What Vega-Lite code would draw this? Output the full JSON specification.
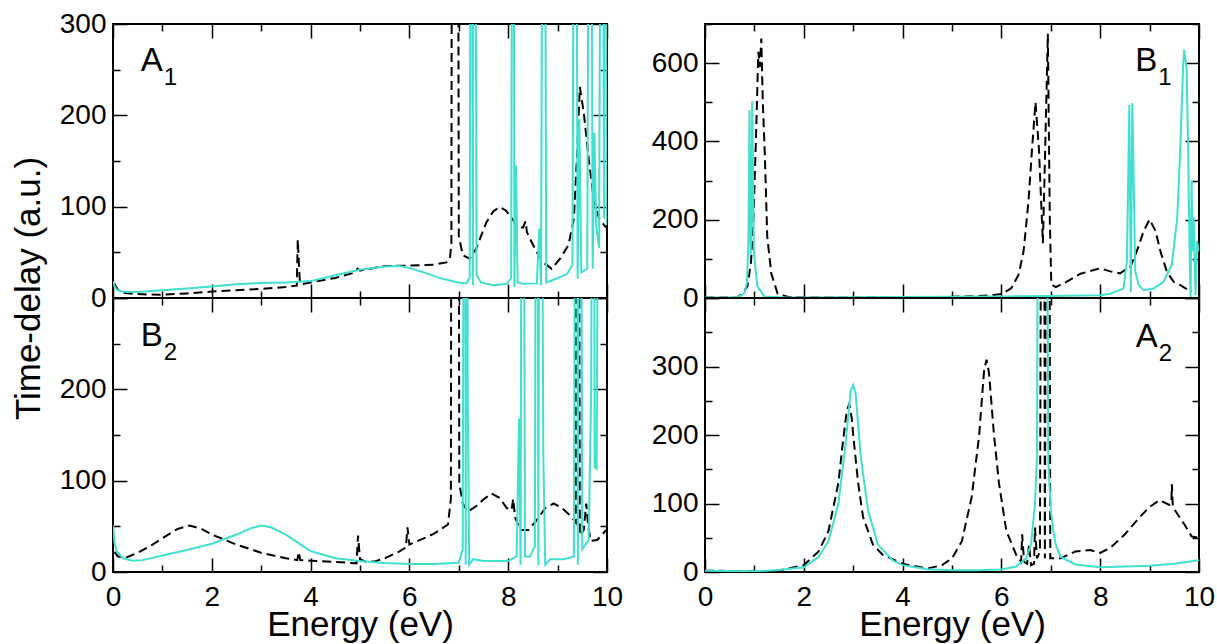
{
  "$schema": "https://vega.github.io/schema/vega-lite/v6.json",
  "padding": {"left": 10, "top": 9, "right": 2, "bottom": 0},
  "config": {
    "font": "Liberation Sans",
    "view": {"stroke": "black", "strokeWidth": 2},
    "axis": {
      "domain": false,
      "grid": false,
      "labelFont": "Liberation Sans",
      "labelFontSize": 28,
      "labelColor": "black",
      "labelFlush": false,
      "labelOverlap": false,
      "labelPadding": 7,
      "titleFont": "Liberation Sans",
      "titleFontSize": 35,
      "titleFontWeight": "normal",
      "titleColor": "black",
      "tickColor": "black",
      "tickWidth": 1.5,
      "tickSize": -14
    },
    "axisBottom": {"labelPadding": 25},
    "axisLeft": {"labelPadding": 21}
  },
  "datasets": {
    "a1d": [
      {"e": 0.02, "t": 16}, {"e": 0.1, "t": 9}, {"e": 0.2, "t": 6}, {"e": 0.4, "t": 4.5}, {"e": 0.7, "t": 3.8},
      {"e": 1.0, "t": 3.6}, {"e": 1.5, "t": 5}, {"e": 2.0, "t": 7}, {"e": 2.5, "t": 8.5}, {"e": 3.0, "t": 10},
      {"e": 3.5, "t": 12}, {"e": 3.72, "t": 13.5}, {"e": 3.74, "t": 64}, {"e": 3.78, "t": 20}, {"e": 3.82, "t": 15},
      {"e": 4.0, "t": 17}, {"e": 4.5, "t": 22}, {"e": 4.9, "t": 28}, {"e": 4.95, "t": 32}, {"e": 5.0, "t": 30},
      {"e": 5.5, "t": 35}, {"e": 6.0, "t": 35.5}, {"e": 6.5, "t": 36.5}, {"e": 6.75, "t": 39}, {"e": 6.82, "t": 43},
      {"e": 6.85, "t": 60}, {"e": 6.87, "t": 1000}, {"e": 6.97, "t": 1000}, {"e": 7.0, "t": 68}, {"e": 7.08, "t": 47},
      {"e": 7.22, "t": 43}, {"e": 7.35, "t": 54}, {"e": 7.56, "t": 83}, {"e": 7.7, "t": 95}, {"e": 7.83, "t": 99.5},
      {"e": 7.95, "t": 96}, {"e": 8.05, "t": 89}, {"e": 8.2, "t": 78}, {"e": 8.3, "t": 77}, {"e": 8.35, "t": 84},
      {"e": 8.38, "t": 72}, {"e": 8.44, "t": 65}, {"e": 8.58, "t": 50}, {"e": 8.71, "t": 39}, {"e": 8.88, "t": 32},
      {"e": 9.05, "t": 43}, {"e": 9.22, "t": 58}, {"e": 9.33, "t": 87}, {"e": 9.39, "t": 152}, {"e": 9.45, "t": 231},
      {"e": 9.53, "t": 203}, {"e": 9.63, "t": 152}, {"e": 9.73, "t": 109}, {"e": 9.84, "t": 87}, {"e": 9.97, "t": 78},
      {"e": 10, "t": 77}
    ],
    "a1c": [
      {"e": 0.0, "t": 18}, {"e": 0.03, "t": 13}, {"e": 0.08, "t": 9}, {"e": 0.15, "t": 7.5}, {"e": 0.3, "t": 6.5},
      {"e": 0.5, "t": 6.5}, {"e": 1.0, "t": 8.5}, {"e": 1.5, "t": 10.5}, {"e": 2.0, "t": 12.5}, {"e": 2.5, "t": 15},
      {"e": 3.0, "t": 16.3}, {"e": 3.5, "t": 17}, {"e": 4.0, "t": 18.5}, {"e": 4.5, "t": 25}, {"e": 5.0, "t": 31},
      {"e": 5.5, "t": 34.5}, {"e": 5.8, "t": 35}, {"e": 6.0, "t": 33}, {"e": 6.3, "t": 28}, {"e": 6.6, "t": 22},
      {"e": 6.9, "t": 18}, {"e": 7.0, "t": 17}, {"e": 7.15, "t": 16}, {"e": 7.22, "t": 22}, {"e": 7.26, "t": 1000},
      {"e": 7.285, "t": 14}, {"e": 7.31, "t": 1000}, {"e": 7.36, "t": 25}, {"e": 7.45, "t": 17}, {"e": 7.7, "t": 14},
      {"e": 7.97, "t": 15.5}, {"e": 8.06, "t": 22}, {"e": 8.1, "t": 1000}, {"e": 8.125, "t": 12}, {"e": 8.16, "t": 145},
      {"e": 8.19, "t": 17}, {"e": 8.3, "t": 15.5}, {"e": 8.58, "t": 16}, {"e": 8.63, "t": 76}, {"e": 8.665, "t": 14},
      {"e": 8.72, "t": 1000}, {"e": 8.77, "t": 17}, {"e": 8.92, "t": 20}, {"e": 9.19, "t": 26}, {"e": 9.3, "t": 36},
      {"e": 9.36, "t": 1000}, {"e": 9.405, "t": 21}, {"e": 9.44, "t": 196}, {"e": 9.48, "t": 28}, {"e": 9.6, "t": 32},
      {"e": 9.66, "t": 1000}, {"e": 9.71, "t": 32}, {"e": 9.745, "t": 181}, {"e": 9.78, "t": 79}, {"e": 9.84, "t": 55},
      {"e": 9.9, "t": 1000}, {"e": 9.94, "t": 87}, {"e": 9.98, "t": 1000}, {"e": 10, "t": 80}
    ],
    "b2d": [
      {"e": 0.03, "t": 22}, {"e": 0.1, "t": 17}, {"e": 0.25, "t": 15.5}, {"e": 0.5, "t": 21}, {"e": 0.8, "t": 30},
      {"e": 1.0, "t": 37}, {"e": 1.3, "t": 47}, {"e": 1.55, "t": 51}, {"e": 1.8, "t": 47}, {"e": 2.0, "t": 41},
      {"e": 2.5, "t": 30}, {"e": 3.0, "t": 21}, {"e": 3.5, "t": 15}, {"e": 3.73, "t": 13}, {"e": 3.76, "t": 22},
      {"e": 3.79, "t": 13}, {"e": 4.0, "t": 12.4}, {"e": 4.5, "t": 11}, {"e": 4.93, "t": 9.5}, {"e": 4.96, "t": 40},
      {"e": 5.0, "t": 14}, {"e": 5.1, "t": 11.5}, {"e": 5.3, "t": 11.5}, {"e": 5.5, "t": 15}, {"e": 5.8, "t": 22.5},
      {"e": 5.93, "t": 27}, {"e": 5.96, "t": 49}, {"e": 6.0, "t": 30}, {"e": 6.3, "t": 37}, {"e": 6.5, "t": 42},
      {"e": 6.78, "t": 52}, {"e": 6.84, "t": 80}, {"e": 6.86, "t": 1000}, {"e": 6.98, "t": 1000}, {"e": 7.01, "t": 97},
      {"e": 7.08, "t": 75}, {"e": 7.18, "t": 66}, {"e": 7.35, "t": 72}, {"e": 7.49, "t": 79}, {"e": 7.66, "t": 86},
      {"e": 7.83, "t": 81}, {"e": 7.97, "t": 70}, {"e": 8.07, "t": 68}, {"e": 8.1, "t": 80}, {"e": 8.14, "t": 60},
      {"e": 8.24, "t": 46}, {"e": 8.41, "t": 46}, {"e": 8.58, "t": 57}, {"e": 8.75, "t": 70}, {"e": 8.92, "t": 75},
      {"e": 9.09, "t": 70}, {"e": 9.27, "t": 61}, {"e": 9.37, "t": 54}, {"e": 9.38, "t": 1000}, {"e": 9.42, "t": 1000},
      {"e": 9.45, "t": 40}, {"e": 9.53, "t": 46}, {"e": 9.58, "t": 75}, {"e": 9.62, "t": 50}, {"e": 9.67, "t": 34},
      {"e": 9.8, "t": 35}, {"e": 9.97, "t": 45}, {"e": 10, "t": 46}
    ],
    "b2c": [
      {"e": 0.0, "t": 51}, {"e": 0.03, "t": 32}, {"e": 0.08, "t": 22}, {"e": 0.2, "t": 15}, {"e": 0.4, "t": 12.4},
      {"e": 0.6, "t": 13}, {"e": 1.0, "t": 18}, {"e": 1.5, "t": 24}, {"e": 2.0, "t": 31}, {"e": 2.5, "t": 41},
      {"e": 2.8, "t": 48}, {"e": 3.0, "t": 51}, {"e": 3.2, "t": 49}, {"e": 3.5, "t": 41}, {"e": 3.8, "t": 30},
      {"e": 4.0, "t": 23}, {"e": 4.5, "t": 15}, {"e": 5.0, "t": 12}, {"e": 5.5, "t": 9.8}, {"e": 6.0, "t": 8.7},
      {"e": 6.5, "t": 8.7}, {"e": 7.0, "t": 10}, {"e": 7.08, "t": 25}, {"e": 7.12, "t": 1000}, {"e": 7.14, "t": 8},
      {"e": 7.16, "t": 1000}, {"e": 7.18, "t": 202}, {"e": 7.21, "t": 8}, {"e": 7.29, "t": 14}, {"e": 7.5, "t": 12},
      {"e": 8.0, "t": 12}, {"e": 8.17, "t": 17}, {"e": 8.22, "t": 168}, {"e": 8.25, "t": 8}, {"e": 8.29, "t": 1000},
      {"e": 8.34, "t": 17}, {"e": 8.44, "t": 17}, {"e": 8.54, "t": 28}, {"e": 8.58, "t": 1000}, {"e": 8.61, "t": 7},
      {"e": 8.65, "t": 1000}, {"e": 8.71, "t": 131}, {"e": 8.75, "t": 8}, {"e": 8.85, "t": 14}, {"e": 9.12, "t": 14},
      {"e": 9.33, "t": 17}, {"e": 9.38, "t": 1000}, {"e": 9.41, "t": 8}, {"e": 9.45, "t": 1000}, {"e": 9.5, "t": 25},
      {"e": 9.63, "t": 35}, {"e": 9.68, "t": 199}, {"e": 9.72, "t": 1000}, {"e": 9.75, "t": 115}, {"e": 9.79, "t": 113},
      {"e": 9.86, "t": 1000}, {"e": 10, "t": 1000}
    ],
    "b1d": [
      {"e": 0, "t": 1}, {"e": 0.5, "t": 1.5}, {"e": 0.66, "t": 3}, {"e": 0.75, "t": 10}, {"e": 0.86, "t": 30},
      {"e": 0.93, "t": 90}, {"e": 0.98, "t": 200}, {"e": 1.03, "t": 400}, {"e": 1.08, "t": 629}, {"e": 1.11, "t": 590},
      {"e": 1.14, "t": 663}, {"e": 1.17, "t": 500}, {"e": 1.21, "t": 370}, {"e": 1.26, "t": 157}, {"e": 1.34, "t": 64},
      {"e": 1.47, "t": 11}, {"e": 1.67, "t": 3}, {"e": 2.0, "t": 1.5}, {"e": 3.0, "t": 1.5}, {"e": 4.0, "t": 2},
      {"e": 5.0, "t": 3}, {"e": 5.5, "t": 5}, {"e": 5.8, "t": 7}, {"e": 6.0, "t": 10}, {"e": 6.2, "t": 25},
      {"e": 6.35, "t": 60}, {"e": 6.45, "t": 120}, {"e": 6.55, "t": 250}, {"e": 6.62, "t": 380}, {"e": 6.69, "t": 500},
      {"e": 6.76, "t": 380}, {"e": 6.84, "t": 140}, {"e": 6.89, "t": 400}, {"e": 6.94, "t": 675}, {"e": 6.98, "t": 200},
      {"e": 7.01, "t": 35}, {"e": 7.1, "t": 28}, {"e": 7.3, "t": 40}, {"e": 7.6, "t": 62}, {"e": 8.0, "t": 76},
      {"e": 8.2, "t": 68}, {"e": 8.4, "t": 63}, {"e": 8.61, "t": 80}, {"e": 8.74, "t": 119}, {"e": 8.88, "t": 171},
      {"e": 9.0, "t": 201}, {"e": 9.12, "t": 171}, {"e": 9.22, "t": 119}, {"e": 9.35, "t": 67}, {"e": 9.49, "t": 41},
      {"e": 9.62, "t": 33}, {"e": 9.76, "t": 22}, {"e": 9.86, "t": 18}
    ],
    "b1c": [
      {"e": 0, "t": 1}, {"e": 0.5, "t": 1.5}, {"e": 0.66, "t": 3}, {"e": 0.75, "t": 8}, {"e": 0.8, "t": 13},
      {"e": 0.85, "t": 40}, {"e": 0.88, "t": 150}, {"e": 0.9, "t": 480}, {"e": 0.925, "t": 110}, {"e": 0.94, "t": 200},
      {"e": 0.955, "t": 502}, {"e": 0.99, "t": 115}, {"e": 1.06, "t": 30}, {"e": 1.2, "t": 4}, {"e": 1.5, "t": 2},
      {"e": 2.0, "t": 1.5}, {"e": 4.0, "t": 2.5}, {"e": 6.0, "t": 4}, {"e": 7.0, "t": 5}, {"e": 8.0, "t": 7},
      {"e": 8.2, "t": 11}, {"e": 8.47, "t": 24}, {"e": 8.54, "t": 93}, {"e": 8.59, "t": 493}, {"e": 8.62, "t": 15},
      {"e": 8.65, "t": 498}, {"e": 8.71, "t": 67}, {"e": 8.78, "t": 33}, {"e": 8.88, "t": 20}, {"e": 9.08, "t": 24},
      {"e": 9.28, "t": 41}, {"e": 9.45, "t": 85}, {"e": 9.56, "t": 206}, {"e": 9.62, "t": 379}, {"e": 9.68, "t": 595},
      {"e": 9.7, "t": 634}, {"e": 9.75, "t": 586}, {"e": 9.78, "t": 379}, {"e": 9.81, "t": 119}, {"e": 9.83, "t": 0},
      {"e": 9.85, "t": 300}, {"e": 9.87, "t": 119}, {"e": 9.89, "t": 206}, {"e": 9.93, "t": 7}, {"e": 9.96, "t": 145},
      {"e": 10, "t": 119}
    ],
    "a2d": [
      {"e": 0, "t": 2}, {"e": 0.5, "t": 1.5}, {"e": 1.0, "t": 1}, {"e": 1.5, "t": 2}, {"e": 2.0, "t": 10},
      {"e": 2.3, "t": 30}, {"e": 2.5, "t": 60}, {"e": 2.7, "t": 130}, {"e": 2.8, "t": 195}, {"e": 2.87, "t": 235},
      {"e": 2.92, "t": 245}, {"e": 2.97, "t": 225}, {"e": 3.0, "t": 200}, {"e": 3.1, "t": 130}, {"e": 3.2, "t": 80},
      {"e": 3.4, "t": 40}, {"e": 3.6, "t": 25}, {"e": 4.0, "t": 12}, {"e": 4.5, "t": 5}, {"e": 4.8, "t": 10},
      {"e": 5.0, "t": 20}, {"e": 5.2, "t": 45}, {"e": 5.4, "t": 110}, {"e": 5.55, "t": 200}, {"e": 5.65, "t": 295},
      {"e": 5.7, "t": 310}, {"e": 5.75, "t": 290}, {"e": 5.85, "t": 200}, {"e": 5.95, "t": 130}, {"e": 6.1, "t": 60},
      {"e": 6.3, "t": 25}, {"e": 6.4, "t": 15}, {"e": 6.42, "t": 55}, {"e": 6.46, "t": 15}, {"e": 6.52, "t": 12},
      {"e": 6.56, "t": 40}, {"e": 6.6, "t": 10}, {"e": 6.66, "t": 12}, {"e": 6.68, "t": 65}, {"e": 6.72, "t": 20},
      {"e": 6.78, "t": 30}, {"e": 6.82, "t": 1000}, {"e": 6.86, "t": 1000}, {"e": 6.88, "t": 20}, {"e": 6.92, "t": 1000},
      {"e": 6.96, "t": 1000}, {"e": 6.99, "t": 20}, {"e": 7.2, "t": 20}, {"e": 7.5, "t": 30}, {"e": 7.8, "t": 32},
      {"e": 8.0, "t": 28}, {"e": 8.2, "t": 35}, {"e": 8.5, "t": 55}, {"e": 8.8, "t": 80}, {"e": 9.0, "t": 95},
      {"e": 9.2, "t": 105}, {"e": 9.4, "t": 98}, {"e": 9.44, "t": 100}, {"e": 9.45, "t": 128}, {"e": 9.47, "t": 95},
      {"e": 9.7, "t": 70}, {"e": 9.85, "t": 52}, {"e": 10, "t": 50}
    ],
    "a2c": [
      {"e": 0, "t": 2}, {"e": 0.5, "t": 1.5}, {"e": 1.0, "t": 1}, {"e": 1.5, "t": 3}, {"e": 2.0, "t": 7},
      {"e": 2.3, "t": 22}, {"e": 2.5, "t": 45}, {"e": 2.7, "t": 100}, {"e": 2.85, "t": 190}, {"e": 2.95, "t": 265},
      {"e": 3.0, "t": 273}, {"e": 3.05, "t": 260}, {"e": 3.15, "t": 170}, {"e": 3.3, "t": 90}, {"e": 3.5, "t": 40},
      {"e": 3.8, "t": 17}, {"e": 4.0, "t": 10}, {"e": 4.5, "t": 4}, {"e": 5.0, "t": 2.5}, {"e": 5.5, "t": 2.5},
      {"e": 6.0, "t": 3.5}, {"e": 6.3, "t": 8}, {"e": 6.5, "t": 20}, {"e": 6.6, "t": 40}, {"e": 6.68, "t": 100},
      {"e": 6.72, "t": 170}, {"e": 6.76, "t": 1000}, {"e": 6.9, "t": 1000}, {"e": 6.95, "t": 160}, {"e": 7.0, "t": 90},
      {"e": 7.05, "t": 60}, {"e": 7.1, "t": 40}, {"e": 7.2, "t": 22}, {"e": 7.5, "t": 11}, {"e": 8.0, "t": 7},
      {"e": 9.0, "t": 9}, {"e": 9.5, "t": 12}, {"e": 10, "t": 17}
    ]
  },
  "columns": 2,
  "spacing": {"row": 0, "column": 98},
  "bounds": "flush",
  "concat": [
    {
      "width": 494,
      "height": 274,
      "layer": [
        {
          "data": {"name": "a1d"},
          "mark": {"type": "line", "clip": true, "color": "black", "strokeWidth": 2, "strokeDash": [9, 5]},
          "encoding": {
            "x": {"field": "e", "type": "quantitative", "scale": {"domain": [0, 10], "nice": false},
              "axis": {"orient": "bottom", "values": [0, 1, 2, 3, 4, 5, 6, 7, 8, 9, 10], "labels": false, "title": null,
                "tickDash": {"condition": {"test": "datum.value % 2 != 0", "value": [7, 40]}, "value": [40, 1]}}},
            "y": {"field": "t", "type": "quantitative", "scale": {"domain": [0, 300], "nice": false},
              "axis": {"orient": "left", "values": [0, 50, 100, 150, 200, 250, 300],
                "labelExpr": "datum.value % 100 == 0 ? datum.label : ''",
                "title": "Time-delay (a.u.)", "titleY": 264, "titlePadding": 13,
                "tickDash": {"condition": {"test": "datum.value % 100 != 0", "value": [7, 40]}, "value": [40, 1]}}}
          }
        },
        {
          "data": {"name": "a1c"},
          "mark": {"type": "line", "clip": true, "color": "#40E0D0", "strokeWidth": 2},
          "encoding": {
            "x": {"field": "e", "type": "quantitative",
              "axis": {"orient": "top", "values": [0, 1, 2, 3, 4, 5, 6, 7, 8, 9, 10], "labels": false, "title": null,
                "tickDash": {"condition": {"test": "datum.value % 2 != 0", "value": [7, 40]}, "value": [40, 1]}}},
            "y": {"field": "t", "type": "quantitative",
              "axis": {"orient": "right", "values": [0, 50, 100, 150, 200, 250, 300], "labels": false, "title": null,
                "tickDash": {"condition": {"test": "datum.value % 100 != 0", "value": [7, 40]}, "value": [40, 1]}}}
          }
        },
        {
          "data": {"values": [{"e": 0.56, "t": 248, "a": "A", "b": "1"}]},
          "mark": {"type": "text", "align": "left", "baseline": "alphabetic", "fontSize": 33, "color": "black"},
          "encoding": {
            "x": {"field": "e", "type": "quantitative", "axis": null},
            "y": {"field": "t", "type": "quantitative", "axis": null},
            "text": {"field": "a"}
          }
        },
        {
          "data": {"values": [{"e": 0.56, "t": 248, "a": "A", "b": "1"}]},
          "mark": {"type": "text", "align": "left", "baseline": "alphabetic", "fontSize": 24, "dx": 23, "dy": 14, "color": "black"},
          "encoding": {
            "x": {"field": "e", "type": "quantitative", "axis": null},
            "y": {"field": "t", "type": "quantitative", "axis": null},
            "text": {"field": "b"}
          }
        }
      ]
    },
    {
      "width": 494,
      "height": 274,
      "layer": [
        {
          "data": {"name": "b1d"},
          "mark": {"type": "line", "clip": true, "color": "black", "strokeWidth": 2, "strokeDash": [9, 5]},
          "encoding": {
            "x": {"field": "e", "type": "quantitative", "scale": {"domain": [0, 10], "nice": false},
              "axis": {"orient": "bottom", "values": [0, 1, 2, 3, 4, 5, 6, 7, 8, 9, 10], "labels": false, "title": null,
                "tickDash": {"condition": {"test": "datum.value % 2 != 0", "value": [7, 40]}, "value": [40, 1]}}},
            "y": {"field": "t", "type": "quantitative", "scale": {"domain": [0, 700], "nice": false},
              "axis": {"orient": "left", "values": [0, 100, 200, 300, 400, 500, 600, 700],
                "labelExpr": "datum.value % 200 == 0 ? datum.label : ''", "title": null,
                "tickDash": {"condition": {"test": "datum.value % 200 != 0", "value": [7, 40]}, "value": [40, 1]}}}
          }
        },
        {
          "data": {"name": "b1c"},
          "mark": {"type": "line", "clip": true, "color": "#40E0D0", "strokeWidth": 2},
          "encoding": {
            "x": {"field": "e", "type": "quantitative",
              "axis": {"orient": "top", "values": [0, 1, 2, 3, 4, 5, 6, 7, 8, 9, 10], "labels": false, "title": null,
                "tickDash": {"condition": {"test": "datum.value % 2 != 0", "value": [7, 40]}, "value": [40, 1]}}},
            "y": {"field": "t", "type": "quantitative",
              "axis": {"orient": "right", "values": [0, 100, 200, 300, 400, 500, 600, 700], "labels": false, "title": null,
                "tickDash": {"condition": {"test": "datum.value % 200 != 0", "value": [7, 40]}, "value": [40, 1]}}}
          }
        },
        {
          "data": {"values": [{"e": 8.71, "t": 580, "a": "B", "b": "1"}]},
          "mark": {"type": "text", "align": "left", "baseline": "alphabetic", "fontSize": 33, "color": "black"},
          "encoding": {
            "x": {"field": "e", "type": "quantitative", "axis": null},
            "y": {"field": "t", "type": "quantitative", "axis": null},
            "text": {"field": "a"}
          }
        },
        {
          "data": {"values": [{"e": 8.71, "t": 580, "a": "B", "b": "1"}]},
          "mark": {"type": "text", "align": "left", "baseline": "alphabetic", "fontSize": 24, "dx": 23, "dy": 14, "color": "black"},
          "encoding": {
            "x": {"field": "e", "type": "quantitative", "axis": null},
            "y": {"field": "t", "type": "quantitative", "axis": null},
            "text": {"field": "b"}
          }
        }
      ]
    },
    {
      "width": 494,
      "height": 274,
      "layer": [
        {
          "data": {"name": "b2d"},
          "mark": {"type": "line", "clip": true, "color": "black", "strokeWidth": 2, "strokeDash": [9, 5]},
          "encoding": {
            "x": {"field": "e", "type": "quantitative", "scale": {"domain": [0, 10], "nice": false},
              "axis": {"orient": "bottom", "values": [0, 1, 2, 3, 4, 5, 6, 7, 8, 9, 10],
                "labelExpr": "datum.value % 2 == 0 ? datum.label : ''", "title": "Energy (eV)", "titlePadding": -4,
                "tickDash": {"condition": {"test": "datum.value % 2 != 0", "value": [7, 40]}, "value": [40, 1]}}},
            "y": {"field": "t", "type": "quantitative", "scale": {"domain": [0, 300], "nice": false},
              "axis": {"orient": "left", "values": [0, 50, 100, 150, 200, 250, 300],
                "labelExpr": "datum.value % 100 == 0 && datum.value < 300 ? datum.label : ''", "title": null,
                "tickDash": {"condition": {"test": "datum.value % 100 != 0", "value": [7, 40]}, "value": [40, 1]}}}
          }
        },
        {
          "data": {"name": "b2c"},
          "mark": {"type": "line", "clip": true, "color": "#40E0D0", "strokeWidth": 2},
          "encoding": {
            "x": {"field": "e", "type": "quantitative",
              "axis": {"orient": "top", "values": [0, 1, 2, 3, 4, 5, 6, 7, 8, 9, 10], "labels": false, "title": null,
                "tickDash": {"condition": {"test": "datum.value % 2 != 0", "value": [7, 40]}, "value": [40, 1]}}},
            "y": {"field": "t", "type": "quantitative",
              "axis": {"orient": "right", "values": [0, 50, 100, 150, 200, 250, 300], "labels": false, "title": null,
                "tickDash": {"condition": {"test": "datum.value % 100 != 0", "value": [7, 40]}, "value": [40, 1]}}}
          }
        },
        {
          "data": {"values": [{"e": 0.56, "t": 247, "a": "B", "b": "2"}]},
          "mark": {"type": "text", "align": "left", "baseline": "alphabetic", "fontSize": 33, "color": "black"},
          "encoding": {
            "x": {"field": "e", "type": "quantitative", "axis": null},
            "y": {"field": "t", "type": "quantitative", "axis": null},
            "text": {"field": "a"}
          }
        },
        {
          "data": {"values": [{"e": 0.56, "t": 247, "a": "B", "b": "2"}]},
          "mark": {"type": "text", "align": "left", "baseline": "alphabetic", "fontSize": 24, "dx": 23, "dy": 14, "color": "black"},
          "encoding": {
            "x": {"field": "e", "type": "quantitative", "axis": null},
            "y": {"field": "t", "type": "quantitative", "axis": null},
            "text": {"field": "b"}
          }
        }
      ]
    },
    {
      "width": 494,
      "height": 274,
      "layer": [
        {
          "data": {"name": "a2d"},
          "mark": {"type": "line", "clip": true, "color": "black", "strokeWidth": 2, "strokeDash": [9, 5]},
          "encoding": {
            "x": {"field": "e", "type": "quantitative", "scale": {"domain": [0, 10], "nice": false},
              "axis": {"orient": "bottom", "values": [0, 1, 2, 3, 4, 5, 6, 7, 8, 9, 10],
                "labelExpr": "datum.value % 2 == 0 ? datum.label : ''", "title": "Energy (eV)", "titlePadding": -4,
                "tickDash": {"condition": {"test": "datum.value % 2 != 0", "value": [7, 40]}, "value": [40, 1]}}},
            "y": {"field": "t", "type": "quantitative", "scale": {"domain": [0, 400], "nice": false},
              "axis": {"orient": "left", "values": [0, 50, 100, 150, 200, 250, 300, 350, 400],
                "labelExpr": "datum.value % 100 == 0 && datum.value < 400 ? datum.label : ''", "title": null,
                "tickDash": {"condition": {"test": "datum.value % 100 != 0", "value": [7, 40]}, "value": [40, 1]}}}
          }
        },
        {
          "data": {"name": "a2c"},
          "mark": {"type": "line", "clip": true, "color": "#40E0D0", "strokeWidth": 2},
          "encoding": {
            "x": {"field": "e", "type": "quantitative",
              "axis": {"orient": "top", "values": [0, 1, 2, 3, 4, 5, 6, 7, 8, 9, 10], "labels": false, "title": null,
                "tickDash": {"condition": {"test": "datum.value % 2 != 0", "value": [7, 40]}, "value": [40, 1]}}},
            "y": {"field": "t", "type": "quantitative",
              "axis": {"orient": "right", "values": [0, 50, 100, 150, 200, 250, 300, 350, 400], "labels": false, "title": null,
                "tickDash": {"condition": {"test": "datum.value % 100 != 0", "value": [7, 40]}, "value": [40, 1]}}}
          }
        },
        {
          "data": {"values": [{"e": 8.72, "t": 328, "a": "A", "b": "2"}]},
          "mark": {"type": "text", "align": "left", "baseline": "alphabetic", "fontSize": 33, "color": "black"},
          "encoding": {
            "x": {"field": "e", "type": "quantitative", "axis": null},
            "y": {"field": "t", "type": "quantitative", "axis": null},
            "text": {"field": "a"}
          }
        },
        {
          "data": {"values": [{"e": 8.72, "t": 328, "a": "A", "b": "2"}]},
          "mark": {"type": "text", "align": "left", "baseline": "alphabetic", "fontSize": 24, "dx": 23, "dy": 14, "color": "black"},
          "encoding": {
            "x": {"field": "e", "type": "quantitative", "axis": null},
            "y": {"field": "t", "type": "quantitative", "axis": null},
            "text": {"field": "b"}
          }
        }
      ]
    }
  ]
}
